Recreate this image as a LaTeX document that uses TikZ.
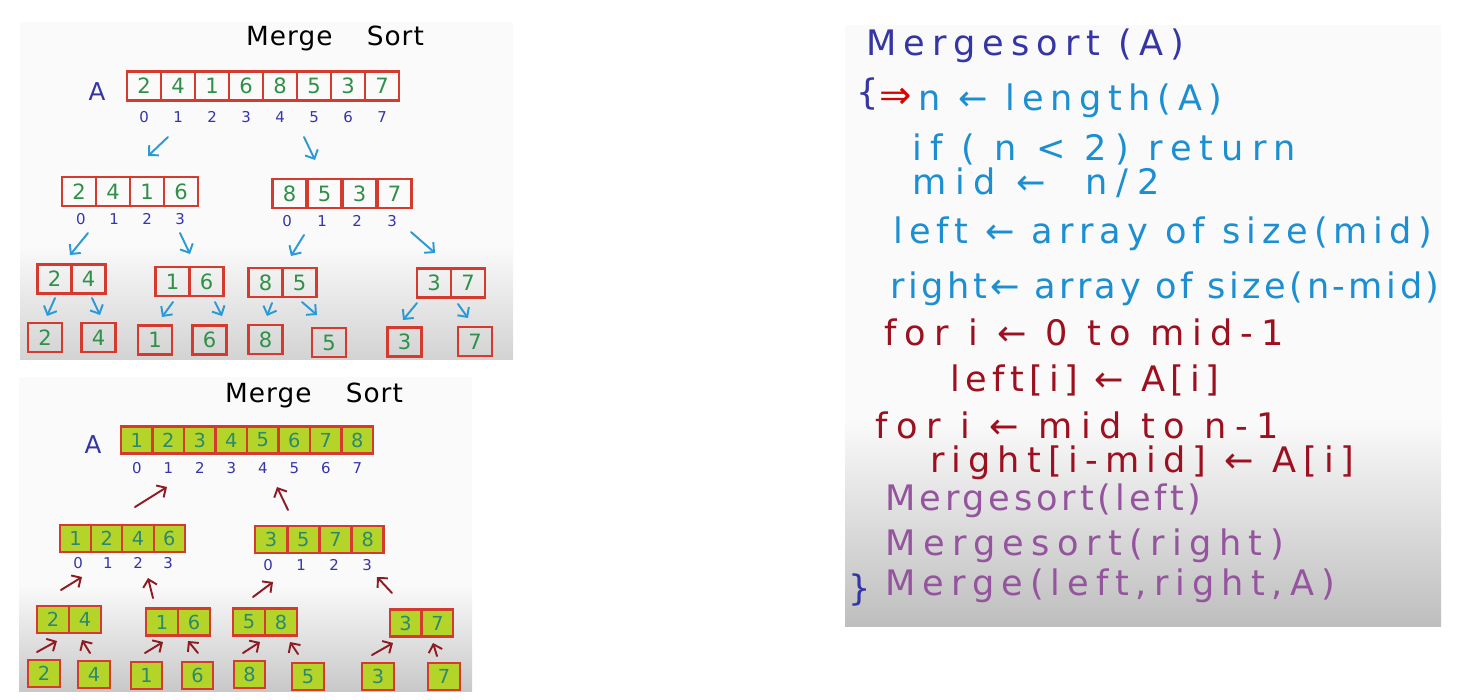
\documentclass[tikz,border=0pt]{standalone}
\usepackage{fontspec}
\setmainfont{DejaVu Sans}
\newfontfamily\hand{DejaVu Sans}
\usetikzlibrary{arrows.meta}

\definecolor{boxred}{HTML}{D43A2E}
\definecolor{numgreen}{HTML}{2F9048}
\definecolor{numteal}{HTML}{2A8A6E}
\definecolor{idxblue}{HTML}{3535A8}
\definecolor{arrblue}{HTML}{2A9AD6}
\definecolor{arrred}{HTML}{8E1A22}
\definecolor{limefill}{HTML}{B4D42A}
\definecolor{codeblue}{HTML}{3535A5}
\definecolor{codecyan}{HTML}{1C8FD3}
\definecolor{codered}{HTML}{9C1020}
\definecolor{codepurple}{HTML}{95559E}
\definecolor{panelgray}{HTML}{C8C8C8}

\tikzset{
  cellT/.style={draw=boxred, line width=1.2pt, minimum width=0.68cm, minimum height=0.58cm,
    inner sep=0pt, text=numgreen, font=\fontsize{12}{12}\selectfont},
  cellB/.style={cellT, fill=limefill, minimum width=0.63cm, minimum height=0.54cm,
    text=numteal, font=\fontsize{11}{11}\selectfont},
  idx/.style={text=idxblue, font=\fontsize{8.5}{8.5}\selectfont},
  lbl/.style={text=idxblue, font=\fontsize{14}{14}\selectfont},
  sorttitle/.style={text=black, font=\hand\fontsize{15}{15}\selectfont\addfontfeature{LetterSpace=4}},
  downarr/.style={arrblue, line width=1.1pt, line cap=round, -{Straight Barb[length=4pt,width=8pt]}},
  uparr/.style={arrred, line width=1.1pt, line cap=round, -{Straight Barb[length=4pt,width=8pt]}},
  code/.style={anchor=base west, inner sep=0pt,
    font=\hand\fontsize{20}{20}\selectfont\addfontfeature{LetterSpace=#1}},
  code/.default=14,
}

\begin{document}
\begin{tikzpicture}[x=0.02cm,y=-0.02cm]
\useasboundingbox (0,0) rectangle (1478,700);

% panels
\fill[white!98!black] (20,22) rectangle (513,359);
\shade[top color=white!98!black, bottom color=panelgray!80] (20,245) rectangle (513,359);
\fill[white!98!black] (19,377) rectangle (472,691);
\shade[top color=white!98!black, bottom color=panelgray] (19,585) rectangle (472,691);
\fill[white!98!black] (845,25) rectangle (1441,626);
\shade[top color=white!98!black, bottom color=panelgray!95!black] (845,420) rectangle (1441,626);

%%% split (top left)
\node[sorttitle] (ttitle) at (335,38) {Merge\hspace{1.3em}Sort};
\node[lbl] (tlab) at (97,92) {A};
\foreach \v [count=\i] in {2,4,1,6,8,5,3,7}
  \node[cellT] (tA\i) at ({144+34*(\i-1)},86) {\v};
\foreach \i in {0,...,7}
  \node[idx] (tAi\i) at ({144+34*\i},117) {\i};

\foreach \v [count=\i] in {2,4,1,6}
  \node[cellT] (tL\i) at ({79+34*(\i-1)},191.5) {\v};
\foreach \v [count=\i] in {8,5,3,7}
  \node[cellT] (tR\i) at ({289.5+35*(\i-1)},193.5) {\v};
\foreach \i in {0,...,3} {
  \node[idx] (tLi\i) at ({81+33*\i},219) {\i};
  \node[idx] (tRi\i) at ({287+35*\i},221) {\i};
}

\foreach \nm/\x/\y/\a/\b in {tP1/54.5/279/2/4, tP2/172.5/281.5/1/6, tP3/265.5/282.5/8/5, tP4/434/283/3/7} {
  \node[cellT] (\nm a) at (\x,\y) {\a};
  \node[cellT] (\nm b) at (\x+34,\y) {\b};
}
\foreach \nm/\x/\y/\v in {tS1/45/337.5/2, tS2/98.5/337.5/4, tS3/155/340/1, tS4/209.5/340/6,
    tS5/265.5/339.5/8, tS6/329/342.5/5, tS7/404.5/342/3, tS8/475/341.5/7}
  \node[cellT] (\nm) at (\x,\y) {\v};

\foreach \s/\e [count=\k] in {{168,137}/{148,156}, {304,137}/{315,160},
    {88,233}/{70,255}, {180,233}/{190,254}, {304,235}/{291,256}, {411,232}/{435,253},
    {55,298}/{47,316}, {92,298}/{100,315}, {173,302}/{162,317}, {215,302}/{222,316},
    {272,303}/{267,316}, {302,302}/{317,315}, {417,303}/{403,320}, {458,304}/{468,318}} {
  \coordinate (dn\k s) at (\s);
  \coordinate (dn\k e) at (\e);
  \draw[downarr] (dn\k s) -- (dn\k e);
}

%%% merge (bottom left)
\node[sorttitle] (btitle) at (314,395) {Merge\hspace{1.3em}Sort};
\node[lbl] (blab) at (93,445) {A};
\foreach \v [count=\i] in {1,...,8}
  \node[cellB] (bA\i) at ({136.75+31.5*(\i-1)},440) {\v};
\foreach \i in {0,...,7}
  \node[idx] (bAi\i) at ({136.75+31.5*\i},468) {\i};

\foreach \v [count=\i] in {1,2,4,6}
  \node[cellB] (bL\i) at ({75.6+31.25*(\i-1)},538.5) {\v};
\foreach \v [count=\i] in {3,5,7,8}
  \node[cellB] (bR\i) at ({271+32.25*(\i-1)},539.5) {\v};
\foreach \i in {0,...,3} {
  \node[idx] (bLi\i) at ({78+30*\i},563) {\i};
  \node[idx] (bRi\i) at ({268+33*\i},565) {\i};
}

\foreach \nm/\x/\y/\a/\b in {bP1/53/619.5/2/4, bP2/162/622/1/6, bP3/249/622/5/8, bP4/405.5/623/3/7} {
  \node[cellB] (\nm a) at (\x,\y) {\a};
  \node[cellB] (\nm b) at (\x+32,\y) {\b};
}
\foreach \nm/\x/\y/\v in {bS1/44/673.5/2, bS2/94/674.5/4, bS3/146.5/675.5/1, bS4/197.5/675.5/6,
    bS5/249.5/674.5/8, bS6/308/676.5/5, bS7/378/676.5/3, bS8/444/676.5/7}
  \node[cellB] (\nm) at (\x,\y) {\v};

\foreach \s/\e [count=\k] in {{135,507}/{167,487}, {288,510}/{277,487},
    {61,590}/{82,577}, {153,598}/{148,578}, {253,597}/{273,582}, {392,593}/{377,577},
    {37,652}/{57,641}, {90,653}/{82,640}, {145,653}/{163,642}, {198,653}/{188,641},
    {243,653}/{260,642}, {298,654}/{290,642}, {372,655}/{393,643}, {437,656}/{433,643}} {
  \coordinate (up\k s) at (\s);
  \coordinate (up\k e) at (\e);
  \draw[uparr] (up\k s) -- (up\k e);
}

%%% pseudocode (right)
\node[code=20, text=codeblue] (c0) at (866,55) {Mergesort (A)};
\node[code, text=codeblue] (cop) at (856,104) {\{};
\node[code, text=red!85!black, font=\fontsize{22}{22}\selectfont] (cptr) at (879,108) {⇒};
\node[code=19, text=codecyan] (c1) at (918,110) {n ← length(A)};
\node[code=23, text=codecyan] (c2) at (912,160) {if ( n < 2) return};
\node[code=25, text=codecyan] (c3) at (912,194) {mid ← \ n/2};
\node[code=17, text=codecyan] (c4) at (893,243) {left ← array of size(mid)};
\node[code=10, text=codecyan] (c5) at (890,298) {right← array of size(n-mid)};
\node[code=23, text=codered] (c6) at (884,345) {for i ← 0 to mid-1};
\node[code=16, text=codered] (c7) at (950,391) {left[i] ← A[i]};
\node[code=24, text=codered] (c8) at (875,438) {for i ← mid to n-1};
\node[code=20, text=codered] (c9) at (930,472) {right[i-mid] ← A[i]};
\node[code=11, text=codepurple] (c10) at (885,510) {Mergesort(left)};
\node[code=21, text=codepurple] (c11) at (885,555) {Mergesort(right)};
\node[code=20, text=codepurple] (c12) at (885,595) {Merge(left,right,A)};
\node[code, text=codeblue] (ccl) at (848,600) {\}};

\end{tikzpicture}
\end{document}
